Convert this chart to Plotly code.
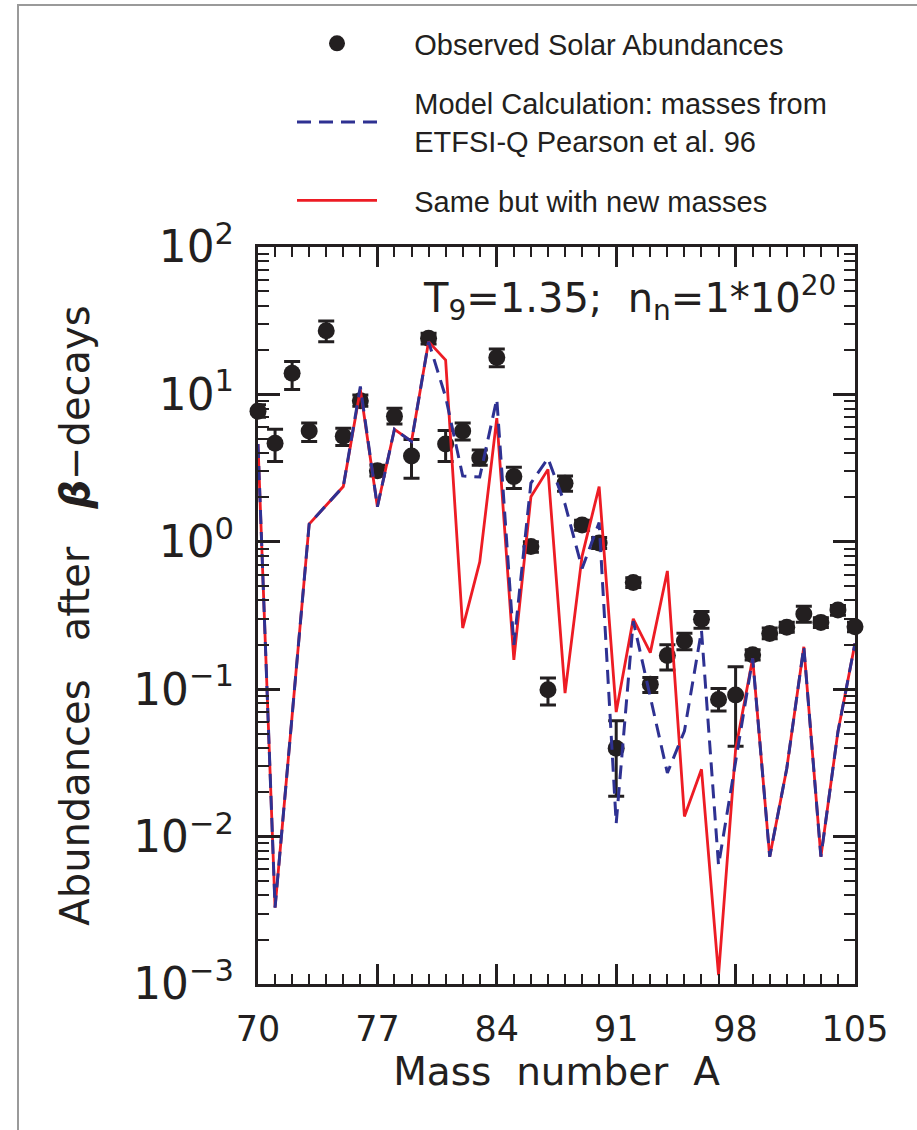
import plotly.graph_objects as go

mass_A = list(range(70, 106))

obs_val = [7.7, 4.66, 13.9, 5.65, 27.0, 5.2, 9.05, 3.03, 7.1, 3.82,
           24.0, 4.6, 5.65, 3.7, 17.8, 2.77, 0.93, 0.099, 2.5, 1.3,
           0.98, 0.0397, 0.53, 0.108, 0.169, 0.212, 0.298, 0.085, 0.0914, 0.171,
           0.239, 0.263, 0.324, 0.284, 0.344, 0.265]
obs_top = [8.5, 5.8, 16.7, 6.4, 31.5, 5.9, 9.9, 3.3, 8.05, 4.95,
           26.0, 5.7, 6.4, 4.2, 20.3, 3.2, 1.0, 0.119, 2.8, 1.4,
           1.07, 0.061, 0.57, 0.12, 0.20, 0.24, 0.336, 0.101, 0.142, 0.185,
           0.26, 0.285, 0.365, 0.305, 0.37, 0.285]
obs_bottom = [7.0, 3.5, 10.8, 4.8, 22.8, 4.5, 8.3, 2.8, 6.3, 2.7,
              22.0, 3.5, 4.9, 3.3, 15.4, 2.3, 0.85, 0.078, 2.2, 1.2,
              0.9, 0.0188, 0.49, 0.095, 0.135, 0.185, 0.259, 0.071, 0.041, 0.158,
              0.22, 0.243, 0.285, 0.262, 0.318, 0.245]

etfsi_val = [4.6, 0.0033, 0.066, 1.32, 1.77, 2.37, 11.3, 1.73, 5.8, 4.8,
             22.8, 9.6, 2.8, 2.75, 9.3, 0.20, 2.5, 3.68, 1.8, 0.66,
             1.35, 0.0123, 0.29, 0.09, 0.027, 0.052, 0.25, 0.0064, 0.033, 0.162,
             0.0073, 0.029, 0.194, 0.0073, 0.0515, 0.205]

newmass_val = [4.6, 0.0033, 0.066, 1.32, 1.77, 2.37, 10.8, 1.73, 5.8, 4.8,
               22.8, 17.1, 0.26, 0.73, 6.9, 0.158, 2.02, 3.1, 0.094, 0.8,
               2.37, 0.070, 0.30, 0.177, 0.634, 0.0137, 0.0286, 0.00115, 0.039, 0.162,
               0.0073, 0.029, 0.194, 0.0073, 0.0515, 0.205]

x_ticks = [70, 77, 84, 91, 98, 105]

err_plus = [t - v for t, v in zip(obs_top, obs_val)]
err_minus = [v - b for v, b in zip(obs_val, obs_bottom)]

BLACK = "#231f20"
RED = "#ed1c24"
BLUE = "#2e3192"
AXFONT = "DejaVu Sans"
PAD = "\u00a0\u00a0\u00a0\u00a0"

fig = go.Figure()

fig.add_trace(go.Scatter(
    x=mass_A, y=obs_val, mode="markers",
    name=PAD + "Observed Solar Abundances",
    legendgroup="g1", legendrank=1,
    marker=dict(color=BLACK, size=17),
    error_y=dict(type="data", array=err_plus, arrayminus=err_minus,
                 color=BLACK, thickness=3, width=8),
    cliponaxis=False,
))
fig.add_trace(go.Scatter(
    x=mass_A, y=newmass_val, mode="lines",
    name=PAD + "Same but with new masses",
    legendgroup="g3", legendrank=3,
    line=dict(color=RED, width=2.8),
))
fig.add_trace(go.Scatter(
    x=mass_A, y=etfsi_val, mode="lines",
    name=PAD + "Model Calculation: masses from<br>" + PAD + "ETFSI-Q Pearson et al. 96",
    legendgroup="g2", legendrank=2,
    line=dict(color=BLUE, width=3, dash="14px,8px"),
))

W, H = 917, 1130
L, R, T, B = 258, 62, 247, 146
pw, ph = W - L - R, H - T - B

def px_to_paper_x(px):
    return (px - L) / pw

def px_to_paper_y(py):
    return (H - B - py) / ph

fig.update_layout(
    width=W, height=H,
    margin=dict(l=L, r=R, t=T, b=B, pad=0),
    paper_bgcolor="white", plot_bgcolor="white",
    font=dict(family=AXFONT, color=BLACK),
    showlegend=True,
    legend=dict(
        x=px_to_paper_x(292), y=px_to_paper_y(18),
        xanchor="left", yanchor="top",
        font=dict(family="Liberation Sans", size=29, color=BLACK),
        bgcolor="rgba(0,0,0,0)",
        itemwidth=80, traceorder="grouped", tracegroupgap=19,
    ),
    xaxis=dict(
        range=[70, 105], tickmode="array", tickvals=x_ticks,
        ticks="inside", ticklen=20, tickwidth=2.5, tickcolor=BLACK,
        minor=dict(dtick=1, tick0=70, ticks="inside", ticklen=10, tickwidth=2, tickcolor=BLACK),
        showline=True, linewidth=3, linecolor=BLACK, mirror="allticks",
        showgrid=False, zeroline=False,
        tickfont=dict(family=AXFONT, size=35, color=BLACK),
        ticklabelstandoff=12,
        title=dict(text="Mass\u00a0\u00a0number\u00a0\u00a0A",
                   font=dict(family=AXFONT, size=39, color=BLACK), standoff=8),
    ),
    yaxis=dict(
        type="log", range=[-3, 2], dtick=1,
        exponentformat="power",
        labelalias={"1": "10<sup>0</sup>", "10": "10<sup>1</sup>"},
        ticks="inside", ticklen=22, tickwidth=2.5, tickcolor=BLACK,
        minor=dict(dtick="D1", ticks="inside", ticklen=11, tickwidth=2, tickcolor=BLACK),
        showline=True, linewidth=3, linecolor=BLACK, mirror="allticks",
        showgrid=False, zeroline=False,
        tickfont=dict(family=AXFONT, size=35, color=BLACK),
        ticklabelstandoff=14,
        title=dict(text="Abundances\u00a0\u00a0\u00a0after\u00a0\u00a0\u00a0<b><i>\u03b2</i></b>\u2212decays",
                   font=dict(family=AXFONT, size=40, color=BLACK), standoff=32),
    ),
)

fig.add_annotation(
    xref="paper", yref="paper",
    x=px_to_paper_x(838), y=px_to_paper_y(298),
    xanchor="right", yanchor="middle",
    text="T<sub>9</sub>=1.35;\u00a0\u00a0n<sub>n</sub>=1*10<sup>20</sup>",
    showarrow=False,
    font=dict(family=AXFONT, size=40, color=BLACK),
)

# thin grey page frame (top and left edges)
fig.add_shape(
    type="rect", xref="paper", yref="paper",
    x0=px_to_paper_x(18), y0=px_to_paper_y(5),
    x1=px_to_paper_x(W + 20), y1=px_to_paper_y(H + 20),
    line=dict(color="#9a9a9a", width=2), layer="below",
)

fig.write_html("out.html")
